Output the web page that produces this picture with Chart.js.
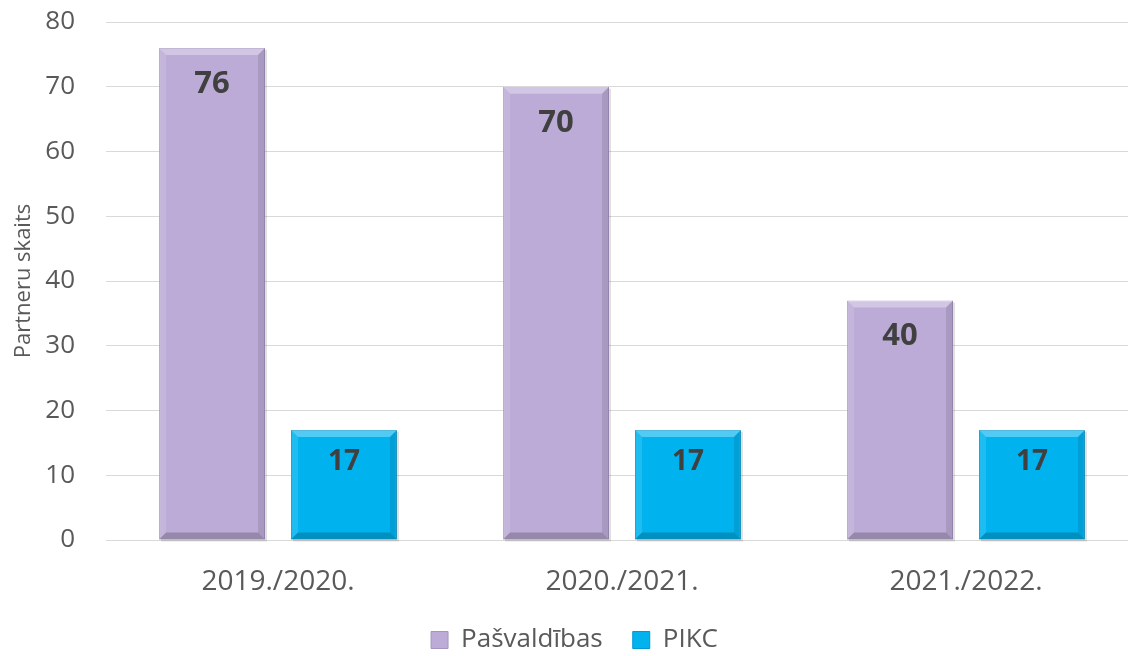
<!DOCTYPE html>
<html>
<head>
<meta charset="utf-8">
<script src="https://cdn.jsdelivr.net/npm/chart.js@4.4.1/dist/chart.umd.min.js"></script>
<style>
  html, body { margin: 0; padding: 0; background: #fff; overflow: hidden; }
  #wrap { width: 1128px; height: 656px; overflow: hidden; }
</style>
</head>
<body>
<div id="wrap"><canvas id="chart" width="1138" height="656"></canvas></div>
<script>
const years = ['2019./2020.', '2020./2021.', '2021./2022.'];
const pasvaldibas = [76, 70, 37];
const pasvaldibasLabels = ['76', '70', '40'];
const pikc = [17, 17, 17];
const pikcLabels = ['17', '17', '17'];
const yTicks = [0, 10, 20, 30, 40, 50, 60, 70, 80];

const FONT = '"Open Sans", Lato, sans-serif';
const PURPLE = '#bcabd6';
const BLUE = '#00b3ef';

function barBox(bar) {
  return { l: bar.x - bar.width / 2, r: bar.x + bar.width / 2, t: bar.y, b: bar.base };
}

// soft shadow, bevel and value labels on top of the bars laid out by Chart.js
const bevelPlugin = {
  id: 'bevel',
  beforeDatasetsDraw(chart) {
    const ctx = chart.ctx;
    ctx.save();
    ctx.fillStyle = 'rgba(0,0,0,0.12)';
    chart.data.datasets.forEach((ds, di) => {
      chart.getDatasetMeta(di).data.forEach(bar => {
        const { l, r, t, b } = barBox(bar);
        ctx.fillRect(l + 2, t + 2, r - l, b - t);
      });
    });
    ctx.restore();
  },
  afterDatasetsDraw(chart) {
    const ctx = chart.ctx;
    chart.data.datasets.forEach((ds, di) => {
      chart.getDatasetMeta(di).data.forEach((bar, i) => {
        const { l, r, t, b } = barBox(bar);
        const s = 7;
        ctx.save();
        ctx.fillStyle = 'rgba(255,255,255,0.32)';
        ctx.beginPath();
        ctx.moveTo(l, t); ctx.lineTo(r, t); ctx.lineTo(r - s, t + s); ctx.lineTo(l + s, t + s);
        ctx.closePath(); ctx.fill();
        ctx.fillStyle = 'rgba(255,255,255,0.12)';
        ctx.beginPath();
        ctx.moveTo(l, t); ctx.lineTo(l + s, t + s); ctx.lineTo(l + s, b - s); ctx.lineTo(l, b);
        ctx.closePath(); ctx.fill();
        ctx.fillStyle = 'rgba(0,0,0,0.10)';
        ctx.beginPath();
        ctx.moveTo(r, t); ctx.lineTo(r - s, t + s); ctx.lineTo(r - s, b - s); ctx.lineTo(r, b);
        ctx.closePath(); ctx.fill();
        ctx.fillStyle = 'rgba(0,0,0,0.2)';
        ctx.beginPath();
        ctx.moveTo(l, b); ctx.lineTo(r, b); ctx.lineTo(r - s, b - s); ctx.lineTo(l + s, b - s);
        ctx.closePath(); ctx.fill();
        ctx.fillStyle = '#404040';
        ctx.font = 'bold ' + ds.labelSize + 'px ' + FONT;
        ctx.textAlign = 'center';
        ctx.textBaseline = 'middle';
        ctx.fillText(ds.valueLabels[i], bar.x, t + ds.labelOffset);
        ctx.restore();
      });
    });
  }
};

new Chart(document.getElementById('chart'), {
  type: 'bar',
  data: {
    labels: years,
    datasets: [
      {
        label: 'Pašvaldības',
        data: pasvaldibas,
        valueLabels: pasvaldibasLabels,
        labelSize: 31,
        labelOffset: 36,
        backgroundColor: PURPLE,
        borderColor: '#a594c0',
        borderWidth: 1,
        categoryPercentage: 0.767,
        barPercentage: 0.803
      },
      {
        label: 'PIKC',
        data: pikc,
        valueLabels: pikcLabels,
        labelSize: 28,
        labelOffset: 32,
        backgroundColor: BLUE,
        borderColor: '#0098d0',
        borderWidth: 1,
        categoryPercentage: 0.767,
        barPercentage: 0.803
      }
    ]
  },
  options: {
    responsive: false,
    animation: false,
    layout: { padding: { top: 22, right: 0, left: 11, bottom: -7 } },
    plugins: {
      tooltip: { enabled: false },
      legend: {
        position: 'bottom',
        labels: {
          font: { family: FONT, size: 26 },
          color: '#595959',
          boxWidth: 17,
          boxHeight: 17,
          padding: 30
        }
      }
    },
    scales: {
      x: {
        afterFit(axis) { axis.height = 57; },
        grid: { display: false, drawTicks: false },
        border: { color: '#d9d9d9', width: 1 },
        ticks: { font: { family: FONT, size: 28 }, color: '#595959', padding: 25 }
      },
      y: {
        min: 0,
        max: 80,
        afterBuildTicks(axis) { axis.ticks = yTicks.map(v => ({ value: v })); },
        afterFit(axis) {
          axis.width = 95;
          axis.paddingTop = 0;
          axis.paddingBottom = 0;
        },
        grid: { color: '#d9d9d9', drawTicks: false },
        border: { display: false },
        ticks: { font: { family: FONT, size: 26 }, color: '#595959', padding: 31 },
        title: {
          display: true,
          text: 'Partneru skaits',
          font: { family: FONT, size: 22 },
          color: '#595959',
          padding: { top: 0, bottom: 10 }
        }
      }
    }
  },
  plugins: [bevelPlugin]
});
</script>
</body>
</html>
